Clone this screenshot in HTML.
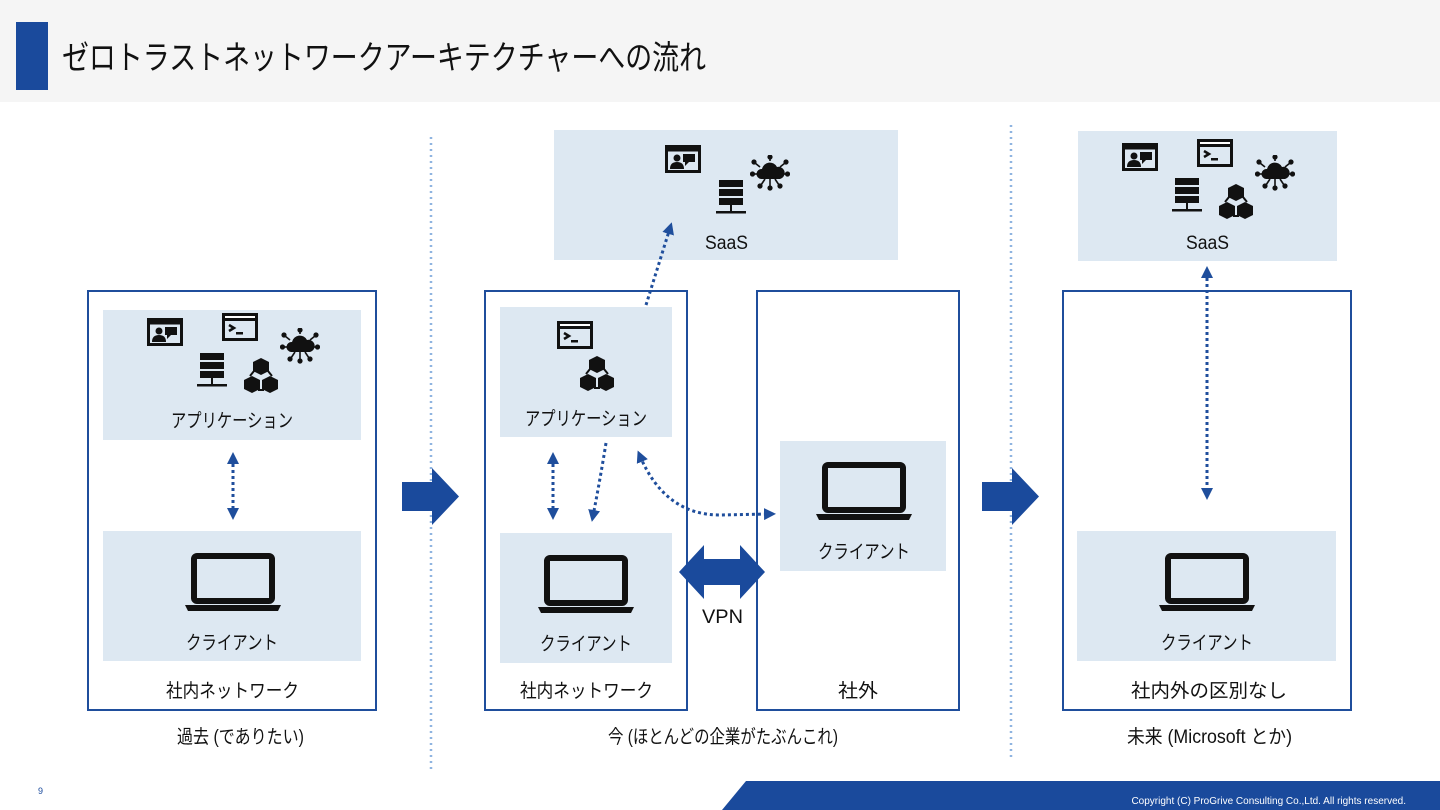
<!DOCTYPE html>
<html><head><meta charset="utf-8"><style>
html,body{margin:0;padding:0;background:#fff}
svg{display:block}
text{font-family:"Liberation Sans","Noto Sans CJK JP",sans-serif;fill:#111}
</style></head><body>
<svg width="1440" height="810" viewBox="0 0 1440 810" xmlns="http://www.w3.org/2000/svg">
<defs>
<marker id="ah" viewBox="0 0 10 10" refX="5" refY="5" markerWidth="4" markerHeight="4" orient="auto-start-reverse"><path d="M0,0 L10,5 L0,10 z" fill="#1f4e9c"/></marker>
<symbol id="chat" viewBox="0 0 36 28"><rect x="1.5" y="1.5" width="33" height="25" fill="none" stroke="#111" stroke-width="3"/><rect x="1.5" y="1.5" width="33" height="5" fill="#111"/><circle cx="12" cy="13" r="3.5" fill="#111"/><path d="M5 24 q0-7 7-7 q7 0 7 7z" fill="#111"/><rect x="18" y="9" width="12" height="8" fill="#111"/><path d="M20 17 l0 4 l4-4z" fill="#111"/></symbol>
<symbol id="term" viewBox="0 0 36 28"><rect x="1.5" y="1.5" width="33" height="25" fill="none" stroke="#111" stroke-width="3"/><rect x="1.5" y="1.5" width="33" height="5" fill="#fff" stroke="#111" stroke-width="3"/><path d="M7 12 l5 3 l-5 3" fill="none" stroke="#111" stroke-width="2.5"/><rect x="14" y="19" width="7" height="2.5" fill="#111"/></symbol>
<symbol id="srv" viewBox="0 0 30 36"><rect x="3" y="0" width="24" height="7" fill="#111"/><rect x="3" y="9" width="24" height="7" fill="#111"/><rect x="3" y="18" width="24" height="7" fill="#111"/><rect x="14" y="25" width="2" height="7" fill="#111"/><rect x="0" y="31" width="30" height="2.5" fill="#111"/></symbol>
<symbol id="cube" viewBox="0 0 38 38"><path d="M19 1 l8 4 v9 l-8 4 l-8-4 v-9z" fill="#111"/><path d="M10 19 l8 4 v9 l-8 4 l-8-4 v-9z" fill="#111"/><path d="M28 19 l8 4 v9 l-8 4 l-8-4 v-9z" fill="#111"/><path d="M12 14 L8 19 M26 14 L30 19 M16 33 H22" stroke="#111" stroke-width="2"/></symbol>
<symbol id="cloud" viewBox="0 0 40 36"><path d="M11 24 a5 5 0 0 1 1-10 a8 8 0 0 1 15-2 a6 6 0 0 1 3 12z" fill="#111"/><g stroke="#111" stroke-width="1.6" fill="#111"><path d="M20 24 v8"/><circle cx="20" cy="33" r="1.8"/><path d="M15 24 l-4 6"/><circle cx="10" cy="31" r="1.8"/><path d="M25 24 l4 6"/><circle cx="30" cy="31" r="1.8"/><path d="M8 19 h-5"/><circle cx="2.5" cy="19" r="1.8"/><path d="M32 19 h5"/><circle cx="37.5" cy="19" r="1.8"/><path d="M10 12 l-5-4"/><circle cx="4" cy="7" r="1.8"/><path d="M30 12 l5-4"/><circle cx="36" cy="7" r="1.8"/><path d="M20 6 v-4"/><circle cx="20" cy="2" r="1.8"/></g></symbol>
<symbol id="lap" viewBox="0 0 96 60"><rect x="9" y="3" width="78" height="45" rx="3" fill="none" stroke="#111" stroke-width="6"/><path d="M0 52 h96 l-3 6 h-90z" fill="#111"/></symbol>
</defs>
<rect x="0" y="0" width="1440" height="102" fill="#f5f5f5"/>
<rect x="16" y="22" width="32" height="68" fill="#1a4a9c"/>
<text x="62" y="69" font-size="33" textLength="644" lengthAdjust="spacingAndGlyphs">ゼロトラストネットワークアーキテクチャーへの流れ</text>
<g stroke="#8fb4e0" stroke-width="2.5" stroke-dasharray="2 4"><line x1="431" y1="137" x2="431" y2="770"/><line x1="1011" y1="125" x2="1011" y2="757"/></g>
<g fill="none" stroke="#1f4e9c" stroke-width="2"><rect x="88" y="291" width="288" height="419"/><rect x="485" y="291" width="202" height="419"/><rect x="757" y="291" width="202" height="419"/><rect x="1063" y="291" width="288" height="419"/></g>
<g fill="#dde8f2"><rect x="103" y="310" width="258" height="130"/><rect x="103" y="531" width="258" height="130"/><rect x="500" y="307" width="172" height="130"/><rect x="500" y="533" width="172" height="130"/><rect x="554" y="130" width="344" height="130"/><rect x="780" y="441" width="166" height="130"/><rect x="1078" y="131" width="259" height="130"/><rect x="1077" y="531" width="259" height="130"/></g>
<use href="#chat" x="147" y="318" width="36" height="28"/><use href="#term" x="222" y="313" width="36" height="28"/><use href="#cloud" x="280" y="328" width="40" height="36"/><use href="#srv" x="197" y="353" width="30" height="36"/><use href="#cube" x="242" y="357" width="38" height="38"/>
<use href="#term" x="557" y="321" width="36" height="28"/><use href="#cube" x="578" y="355" width="38" height="38"/>
<use href="#chat" x="665" y="145" width="36" height="28"/><use href="#srv" x="716" y="180" width="30" height="36"/><use href="#cloud" x="750" y="155" width="40" height="36"/>
<use href="#chat" x="1122" y="143" width="36" height="28"/><use href="#term" x="1197" y="139" width="36" height="28"/><use href="#cloud" x="1255" y="155" width="40" height="36"/><use href="#srv" x="1172" y="178" width="30" height="36"/><use href="#cube" x="1217" y="183" width="38" height="38"/>
<use href="#lap" x="185" y="553" width="96" height="60"/><use href="#lap" x="538" y="555" width="96" height="60"/><use href="#lap" x="816" y="462" width="96" height="60"/><use href="#lap" x="1159" y="553" width="96" height="60"/>
<g font-size="19" lengthAdjust="spacingAndGlyphs">
<text x="171" y="427" textLength="122" lengthAdjust="spacingAndGlyphs">アプリケーション</text>
<text x="186" y="649" textLength="92" lengthAdjust="spacingAndGlyphs">クライアント</text>
<text x="166" y="697" textLength="133" lengthAdjust="spacingAndGlyphs">社内ネットワーク</text>
<text x="177" y="743" textLength="127" lengthAdjust="spacingAndGlyphs">過去 (でありたい)</text>
<text x="525" y="425" textLength="122" lengthAdjust="spacingAndGlyphs">アプリケーション</text>
<text x="540" y="650" textLength="92" lengthAdjust="spacingAndGlyphs">クライアント</text>
<text x="520" y="697" textLength="133" lengthAdjust="spacingAndGlyphs">社内ネットワーク</text>
<text x="705" y="249" textLength="43" lengthAdjust="spacingAndGlyphs">SaaS</text>
<text x="818" y="558" textLength="92" lengthAdjust="spacingAndGlyphs">クライアント</text>
<text x="838" y="697" textLength="40" lengthAdjust="spacingAndGlyphs">社外</text>
<text x="702" y="623" textLength="41" lengthAdjust="spacingAndGlyphs">VPN</text>
<text x="608" y="743" textLength="230" lengthAdjust="spacingAndGlyphs">今 (ほとんどの企業がたぶんこれ)</text>
<text x="1186" y="249" textLength="43" lengthAdjust="spacingAndGlyphs">SaaS</text>
<text x="1161" y="649" textLength="92" lengthAdjust="spacingAndGlyphs">クライアント</text>
<text x="1131" y="697" textLength="156" lengthAdjust="spacingAndGlyphs">社内外の区別なし</text>
<text x="1127" y="743" textLength="165" lengthAdjust="spacingAndGlyphs">未来 (Microsoft とか)</text></g>
<g fill="none" stroke="#1f4e9c" stroke-width="3" stroke-dasharray="3 3" marker-start="url(#ah)" marker-end="url(#ah)"><line x1="233" y1="458" x2="233" y2="514"/><line x1="553" y1="458" x2="553" y2="514"/><line x1="1207" y1="272" x2="1207" y2="494"/><path d="M640 456 Q665 515 720 515 L770 514"/></g>
<g fill="none" stroke="#1f4e9c" stroke-width="3" stroke-dasharray="3 3" marker-end="url(#ah)"><path d="M606 443 Q600 480 593 516"/><line x1="646" y1="305" x2="670" y2="228"/></g>
<g fill="#1a4a9c"><path d="M402 482 h30 v-14 l27 28.5 l-27 28.5 v-14 h-30z"/><path d="M982 482 h30 v-14 l27 28.5 l-27 28.5 v-14 h-30z"/><path d="M679 572 l25-27 v14 h36 v-14 l25 27 l-25 27 v-14 h-36 v14z"/><path d="M722 810 L746 781 H1440 V810z"/></g>
<text x="38" y="794" font-size="9" style="fill:#1a4a9c">9</text>
<text x="1406" y="804" font-size="10" text-anchor="end" style="fill:#fff">Copyright (C) ProGrive Consulting Co.,Ltd. All rights reserved.</text>
</svg>
</body></html>
